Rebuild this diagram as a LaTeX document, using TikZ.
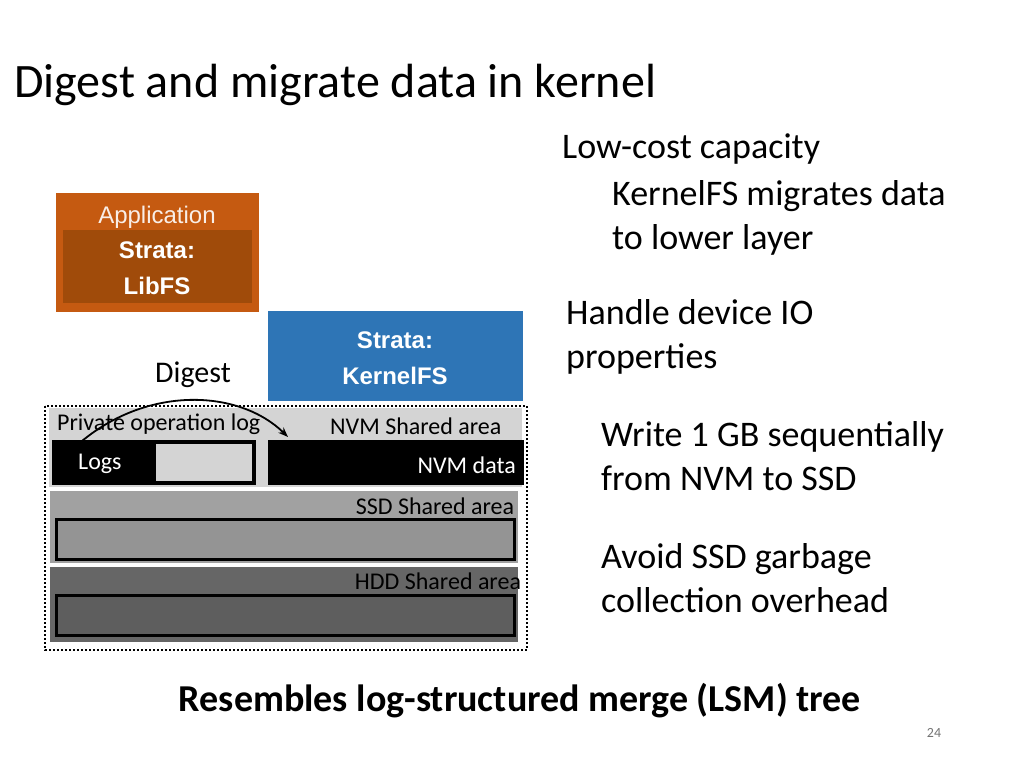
\documentclass[tikz,border=0pt]{standalone}
\usepackage{fontspec}
\setmainfont{Carlito}
\newfontfamily\arial{Liberation Sans}
\usetikzlibrary{arrows.meta}
\definecolor{orng}{HTML}{C55A11}
\definecolor{orngd}{HTML}{A04B0A}
\definecolor{blu}{HTML}{2E75B6}
\begin{document}
\begin{tikzpicture}[x=1pt,y=-1pt,
  txt/.style={inner sep=0pt,font=\fontsize{36}{44}\selectfont,anchor=west},
  lbl/.style={inner sep=0pt,font=\fontsize{24}{28}\selectfont},
  ar/.style={inner sep=0pt,font=\arial\fontsize{24}{28}\selectfont,text=white,align=center}]
\useasboundingbox (0,0) rectangle (1024,768);
\node[inner sep=0pt,anchor=west,font=\fontsize{48}{56}\selectfont] (title) at (14,85) {Digest and migrate data in kernel};
% orange
\fill[orng] (56,193) rectangle (259,312);
\fill[orngd] (63,230) rectangle (252,303);
\node[ar,text=white!90!orng,font=\arial\fontsize{24}{28}\selectfont] (app) at (157,217) {Application};
\node[ar,font=\arial\bfseries\fontsize{24}{36}\selectfont] (lib) at (157,268) {Strata:\\LibFS};
% blue
\fill[blu] (268,311) rectangle (523,401);
\node[ar,font=\arial\bfseries\fontsize{24}{36}\selectfont] (kfs) at (395,358) {Strata:\\KernelFS};
\node[lbl,font=\fontsize{30}{36}\selectfont] (dig) at (193,375) {Digest};
% bands
\fill[black!17] (49,408) rectangle (522,487);
\fill[black!37] (50,491) rectangle (518,563);
\fill[black!42,draw=black,line width=3pt] (56,519) rectangle (514,559);
\fill[black!60] (50,567) rectangle (518,642);
\fill[black!63,draw=black,line width=3pt] (56,595) rectangle (514,635);
\fill[black] (52,440) rectangle (256,485);
\fill[black!17] (156,444) rectangle (252,481);
\fill[black] (268,440) rectangle (524,485);
\draw[dotted,line width=2pt] (45,406) rectangle (527,650);
\node[lbl,anchor=west] (pol) at (57,424) {Private operation log};
\node[lbl,anchor=west] (nsa) at (330,426) {NVM Shared area};
\node[lbl,text=white,anchor=west] (logs) at (78,464) {Logs};
\node[lbl,text=white,anchor=east] (nvd) at (516,465) {NVM data};
\node[lbl] (ssa) at (435,506) {SSD Shared area};
\node[lbl] (hsa) at (438,581) {HDD Shared area};
\coordinate (a1) at (82,441);
\coordinate (a2) at (288,437);
\draw[line width=1.8pt,-{Stealth[length=10pt]}] (a1) .. controls (150,385) and (240,390) .. (a2);
% right text
\node[txt] (t1) at (562,149) {Low-cost capacity};
\node[txt,align=left,anchor=north west] (t2) at (612,180) {KernelFS migrates data\\to lower layer};
\node[txt,align=left,anchor=north west] (t3) at (566,299) {Handle device IO\\properties};
\node[txt,align=left,anchor=north west] (t4) at (601,421) {Write 1 GB sequentially\\from NVM to SSD};
\node[txt,align=left,anchor=north west] (t5) at (601,543) {Avoid SSD garbage\\collection overhead};
\node[inner sep=0pt,font=\bfseries\fontsize{38}{44}\selectfont] (bot) at (520,701) {Resembles log-structured merge (LSM) tree};
\node[inner sep=0pt,text=black!55,font=\fontsize{14}{16}\selectfont] (pg) at (934,733) {24};
\end{tikzpicture}
\end{document}
